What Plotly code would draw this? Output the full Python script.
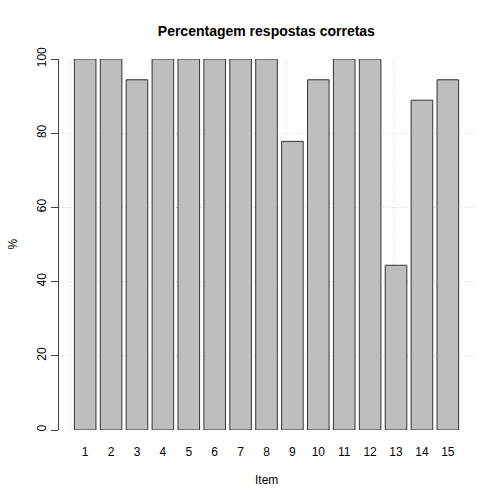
import plotly.graph_objects as go

# item labels and % correct answers
items = [str(i) for i in range(1, 16)]
pct = [100, 100, 94.4, 100, 100, 100, 100, 100, 77.8, 94.4, 100, 100, 44.4, 88.9, 94.4]
y_ticks = [0, 20, 40, 60, 80, 100]
# vertical grid positions (R barplot x units 0, 5, 10, 15 mapped to category units)
x_grid = [-0.583, 3.583, 7.75, 11.917]

font = "Liberation Sans, Arial, sans-serif"
grid_col = "#d8d8d8"

fig = go.Figure(go.Bar(
    x=items,
    y=pct,
    marker=dict(color="#bebebe", line=dict(color="#333333", width=1)),
))

shapes = [
    dict(type="line", xref="x", yref="paper", x0=g, x1=g, y0=0, y1=1,
         line=dict(color=grid_col, width=1, dash="1px,2px"), layer="below")
    for g in x_grid
]

fig.update_layout(
    width=504, height=504,
    margin=dict(l=59, r=30, t=59, b=74),
    paper_bgcolor="white", plot_bgcolor="white",
    bargap=1 / 6,
    showlegend=False,
    font=dict(family=font, size=12, color="black"),
    title=dict(text="<b>Percentagem respostas corretas</b>", x=0.5285, xanchor="center",
               y=1 - 31 / 504, yanchor="middle", yref="container",
               font=dict(size=14, family=font)),
    shapes=shapes,
    xaxis=dict(
        type="category", range=[-1.01, 15.01], automargin=False,
        showgrid=False, zeroline=False, showline=False,
        ticks="outside", ticklen=11, tickcolor="rgba(0,0,0,0)",
        tickfont=dict(size=12),
    ),
    yaxis=dict(
        range=[0, 100], tickvals=y_ticks, tickangle=-90, automargin=False,
        showgrid=True, gridcolor=grid_col, griddash="1px,2px", gridwidth=1,
        zeroline=False, showline=True, linecolor="#444444", linewidth=1,
        ticks="outside", ticklen=7, tickcolor="#444444",
        tickfont=dict(size=12),
    ),
    annotations=[
        dict(text="Item", xref="paper", yref="paper", x=0.5, y=-50 / 371,
             xanchor="center", yanchor="middle", showarrow=False, font=dict(size=12)),
        dict(text="%", xref="paper", yref="paper", x=-47 / 415, y=0.5,
             xanchor="center", yanchor="middle", textangle=-90, showarrow=False,
             font=dict(size=12)),
    ],
)

fig.write_html("out.html", config={"displayModeBar": False},
               post_script="document.body.style.margin='0';")
